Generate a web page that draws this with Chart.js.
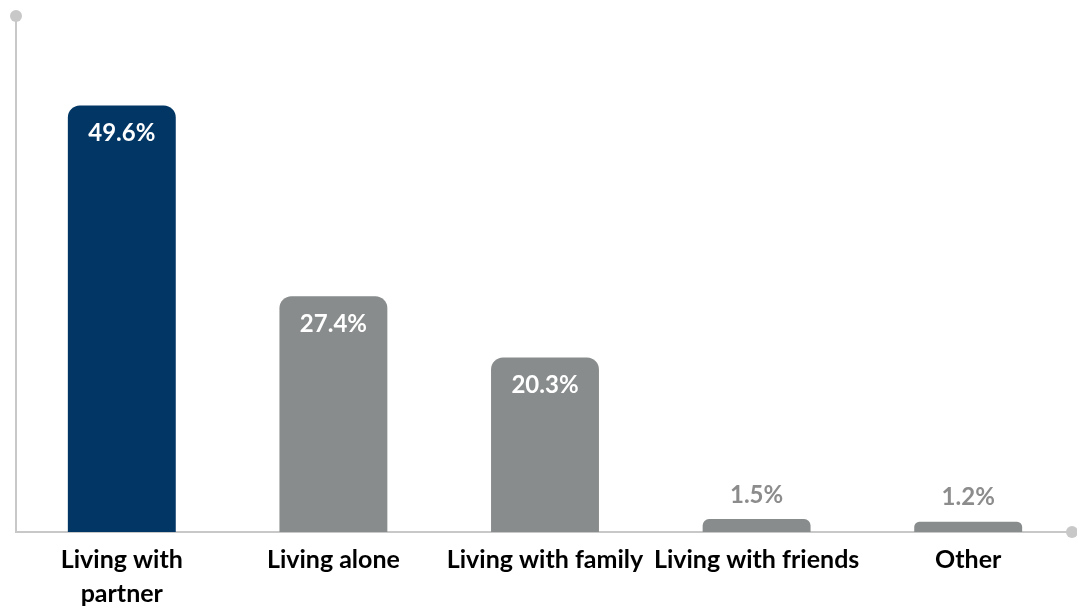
<!DOCTYPE html>
<html>
<head>
<meta charset="utf-8">
<script src="https://cdn.jsdelivr.net/npm/chart.js@4/dist/chart.umd.min.js"></script>
<style>
  html, body { margin: 0; padding: 0; background: #fff; }
  #wrap { width: 1077px; height: 607px; }
</style>
</head>
<body>
<div id="wrap"><canvas id="chart"></canvas></div>
<script>
const categories = [['Living with', 'partner'], 'Living alone', 'Living with family', 'Living with friends', 'Other'];
const shares = [49.6, 27.4, 20.3, 1.5, 1.2];
const barColors = ['#023665', '#898c8c', '#898c8c', '#898c8c', '#898c8c'];
const yMax = 60;

const fontFamily = 'Lato, "Open Sans", sans-serif';

// axis lines with round caps, like the original
const axisCaps = {
  id: 'axisCaps',
  beforeDatasetsDraw(chart) {
    const { ctx, chartArea } = chart;
    const left = chartArea.left, bottom = chartArea.bottom;
    ctx.save();
    ctx.strokeStyle = '#c8c8c8';
    ctx.fillStyle = '#c8c8c8';
    ctx.lineWidth = 2;
    ctx.beginPath();
    ctx.moveTo(left, chartArea.top);
    ctx.lineTo(left, bottom);
    ctx.lineTo(chartArea.right - 2, bottom);
    ctx.stroke();
    ctx.beginPath();
    ctx.arc(left, chartArea.top, 6, 0, Math.PI * 2);
    ctx.fill();
    ctx.beginPath();
    ctx.arc(chartArea.right - 2, bottom, 6, 0, Math.PI * 2);
    ctx.fill();
    ctx.restore();
  }
};

// value labels: inside for tall bars, above for short ones
const valueLabels = {
  id: 'valueLabels',
  afterDatasetsDraw(chart) {
    const { ctx } = chart;
    const meta = chart.getDatasetMeta(0);
    ctx.save();
    ctx.font = 'bold 24px ' + fontFamily;
    ctx.textAlign = 'center';
    ctx.textBaseline = 'middle';
    meta.data.forEach((bar, i) => {
      const txt = shares[i].toFixed(1) + '%';
      if (shares[i] > 5) {
        ctx.fillStyle = '#ffffff';
        ctx.fillText(txt, bar.x, bar.y + 28);
      } else {
        ctx.fillStyle = '#8c8c8c';
        ctx.fillText(txt, bar.x, bar.y - 24);
      }
    });
    ctx.restore();
  }
};

new Chart(document.getElementById('chart'), {
  type: 'bar',
  data: {
    labels: categories,
    datasets: [{
      data: shares,
      backgroundColor: barColors,
      borderWidth: 0,
      borderRadius: { topLeft: 12, topRight: 12, bottomLeft: 0, bottomRight: 0 },
      borderSkipped: 'bottom',
      categoryPercentage: 1,
      barPercentage: 0.51
    }]
  },
  options: {
    responsive: true,
    maintainAspectRatio: false,
    animation: false,
    layout: { padding: { left: 16, top: 16, right: 3, bottom: -7 } },
    plugins: {
      legend: { display: false },
      tooltip: { enabled: false }
    },
    scales: {
      x: {
        grid: { display: false },
        border: { display: false },
        ticks: {
          color: '#000',
          padding: 3,
          maxRotation: 0,
          autoSkip: false,
          font: { family: fontFamily, size: 25, weight: 'bold', lineHeight: 1.36 }
        }
      },
      y: {
        display: false,
        min: 0,
        max: yMax
      }
    }
  },
  plugins: [axisCaps, valueLabels]
});
</script>
</body>
</html>
